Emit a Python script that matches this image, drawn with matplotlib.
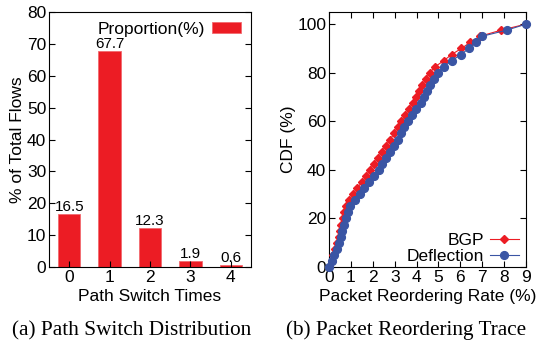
import matplotlib
matplotlib.use("Agg")
import matplotlib.pyplot as plt

# ---- data ----
switch_times = [0, 1, 2, 3, 4]
proportion = [16.5, 67.7, 12.3, 1.9, 0.6]

cdf_levels = [0, 2.5, 5, 7.5, 10, 12.5, 15, 17.5, 20, 22.5, 25, 27.5, 30, 32.5, 35,
              37.5, 40, 42.5, 45, 47.5, 50, 52.5, 55, 57.5, 60, 62.5, 65, 67.5, 70,
              72.5, 75, 77.5, 80, 82.5, 85, 87.5, 90, 92.5, 95, 97.5, 100]
bgp_rate = [0, 0.12, 0.2, 0.28, 0.36, 0.44, 0.5, 0.57, 0.63, 0.7, 0.77, 0.92, 1.1,
            1.27, 1.52, 1.7, 1.87, 2.05, 2.25, 2.42, 2.6, 2.8, 2.97, 3.13, 3.3, 3.47,
            3.65, 3.82, 3.98, 4.12, 4.27, 4.43, 4.6, 4.85, 5.25, 5.6, 6.05, 6.45, 6.9,
            7.85, 9.0]
defl_rate = [0, 0.15, 0.24, 0.35, 0.44, 0.53, 0.61, 0.68, 0.78, 0.85, 0.96, 1.17, 1.43,
             1.61, 1.84, 2.07, 2.28, 2.44, 2.6, 2.8, 2.97, 3.14, 3.29, 3.44, 3.61, 3.77,
             3.96, 4.19, 4.32, 4.47, 4.63, 4.81, 4.96, 5.24, 5.62, 6.03, 6.39, 6.7, 6.99,
             8.11, 9.0]

RED = "#ec1c24"
BLUE = "#3a55a4"
FS = 12.5

plt.rcParams['font.family'] = ['Liberation Sans', 'DejaVu Sans']
plt.rcParams['font.size'] = FS

fig = plt.figure(figsize=(5.39, 3.40), dpi=100)

# ---- left: bar chart ----
ax1 = fig.add_axes([0.0909, 0.2147, 0.3748, 0.75])
ax1.bar(switch_times, proportion, width=0.55, color=RED, edgecolor="#f26a6f",
        linewidth=0.6, label="Proportion(%)")
for x, v in zip(switch_times, proportion):
    ax1.text(x, v + 1.0, f"{v}", ha="center", va="baseline", fontsize=11)
ax1.set_xlim(-0.5, 4.5)
ax1.set_ylim(0, 80)
ax1.set_yticks(range(0, 81, 10))
ax1.set_xticks(switch_times)
ax1.tick_params(direction="in", right=True, top=False, length=4, labelsize=FS, pad=2)
ax1.set_xlabel("Path Switch Times", fontsize=FS, labelpad=3)
ax1.set_ylabel("% of Total Flows", fontsize=FS, labelpad=1)
ax1.legend(loc="upper right", frameon=False, markerfirst=False, handlelength=1.7,
           handleheight=0.55, fontsize=FS, borderaxespad=0.15, handletextpad=0.4)

# ---- right: CDF ----
ax2 = fig.add_axes([0.6104, 0.2147, 0.3655, 0.75])
ax2.plot(bgp_rate, cdf_levels, color=RED, marker="D", markersize=4.3, linewidth=0.8,
         label="BGP", clip_on=False, zorder=3)
ax2.plot(defl_rate, cdf_levels, color=BLUE, marker="o", markersize=5.6, linewidth=0.8,
         label="Deflection", clip_on=False, zorder=4)
ax2.set_xlim(0, 9)
ax2.set_ylim(0, 105)
ax2.set_xticks(range(0, 10))
ax2.set_yticks(range(0, 101, 20))
ax2.tick_params(direction="in", right=True, top=True, length=4, labelsize=FS, pad=2)
ax2.set_xlabel("Packet Reordering Rate (%)", fontsize=FS, labelpad=3)
ax2.set_ylabel("CDF (%)", fontsize=FS, labelpad=1)
ax2.legend(loc="lower right", bbox_to_anchor=(1.0, -0.015), frameon=False,
           markerfirst=False, handlelength=1.7, fontsize=FS, borderaxespad=0.0,
           handletextpad=0.3, labelspacing=0.05)

# ---- captions ----
fig.text(0.245, 0.028, "(a) Path Switch Distribution", ha="center", va="center",
         fontsize=15.3, family=["Liberation Serif", "DejaVu Serif"])
fig.text(0.754, 0.028, "(b) Packet Reordering Trace", ha="center", va="center",
         fontsize=15.3, family=["Liberation Serif", "DejaVu Serif"])

fig.savefig("out.png", dpi=100)
